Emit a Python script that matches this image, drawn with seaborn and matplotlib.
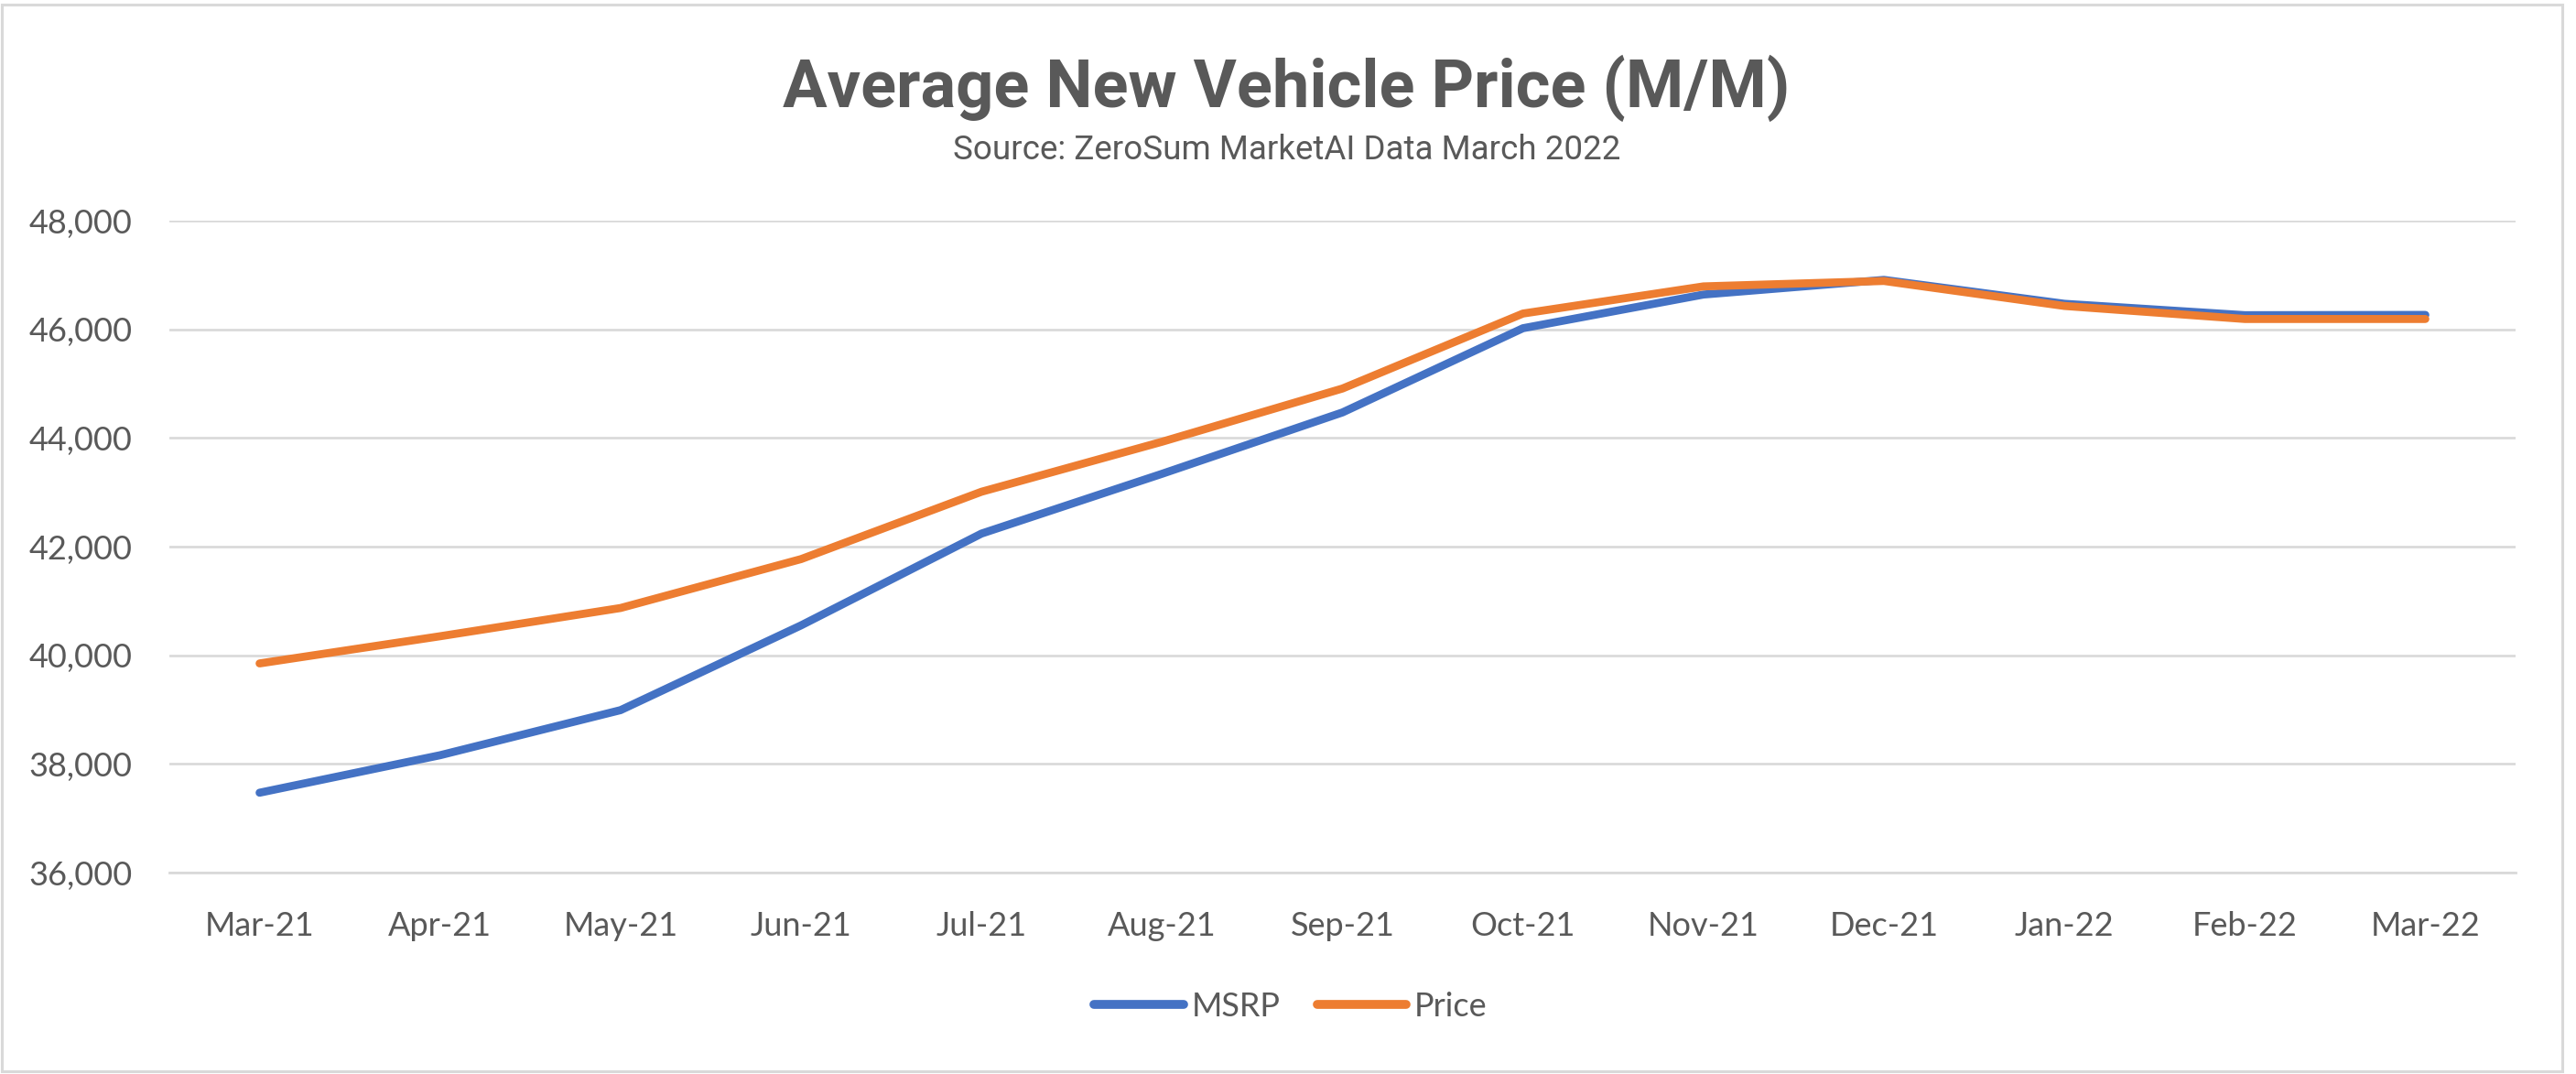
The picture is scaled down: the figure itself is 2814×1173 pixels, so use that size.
import pandas as pd
import matplotlib
matplotlib.use("Agg")
import matplotlib.pyplot as plt
from matplotlib.patches import Rectangle
from matplotlib.ticker import FuncFormatter, FixedLocator
import seaborn as sns

# -----------------------------
# DATA
# -----------------------------

MONTHS = ["Mar-21", "Apr-21", "May-21", "Jun-21", "Jul-21", "Aug-21", "Sep-21",
          "Oct-21", "Nov-21", "Dec-21", "Jan-22", "Feb-22", "Mar-22"]

MSRP = [37470, 38160, 38990, 40550, 42240, 43340, 44470,
        46020, 46640, 46910, 46470, 46260, 46265]

PRICE = [39850, 40350, 40870, 41770, 43010, 43930, 44910,
         46290, 46790, 46890, 46430, 46190, 46190]

SERIES = ["MSRP", "Price"]
COLORS = ["#4472C4", "#ED7D31"]
Y_TICKS = [36000, 38000, 40000, 42000, 44000, 46000, 48000]

TEXT = "#595959"
GRID = "#D9D9D9"

# -----------------------------
# PLOT
# -----------------------------

df = pd.DataFrame({
    "month": MONTHS * 2,
    "value": MSRP + PRICE,
    "series": ["MSRP"] * len(MONTHS) + ["Price"] * len(MONTHS),
})

sns.set_theme(style="white")
plt.rcParams["font.family"] = ["Lato", "DejaVu Sans"]

W, H = 2814, 1173
fig = plt.figure(figsize=(W / 100, H / 100), dpi=100)
ax = fig.add_axes([185 / W, 1 - 953 / H, (2748 - 185) / W, (953 - 241) / H])

sns.lineplot(
    data=df, x="month", y="value", hue="series",
    hue_order=SERIES, palette=COLORS, sort=False,
    linewidth=6.3, ax=ax, legend=True
)
for line in ax.get_lines():
    line.set_solid_capstyle("round")
    line.set_solid_joinstyle("round")

ax.set_xlim(-0.5, len(MONTHS) - 0.5)
ax.set_ylim(Y_TICKS[0], Y_TICKS[-1])
ax.set_yticks(Y_TICKS)
ax.yaxis.set_major_formatter(FuncFormatter(lambda v, p: f"{v:,.0f}"))
ax.set_xlabel("")
ax.set_ylabel("")

ax.grid(axis="y", color=GRID, linewidth=1.9)
ax.grid(axis="x", visible=False)
ax.set_axisbelow(True)
for side in ["top", "right", "left"]:
    ax.spines[side].set_visible(False)
ax.spines["bottom"].set_color(GRID)
ax.spines["bottom"].set_linewidth(2.0)

ax.xaxis.set_minor_locator(FixedLocator([i - 0.5 for i in range(len(MONTHS) + 1)]))
ax.tick_params(axis="x", which="major", length=0, pad=30, labelsize=26, labelcolor=TEXT)
ax.tick_params(axis="x", which="minor", length=8.6, width=2.0, color=GRID, direction="out")
ax.tick_params(axis="y", length=0, pad=29, labelsize=26, labelcolor=TEXT)

handles, labels = ax.get_legend_handles_labels()
ax.legend(
    handles, labels, loc="center", ncol=2, frameon=False,
    bbox_to_anchor=(1410 / W, 1 - 1099 / H), bbox_transform=fig.transFigure,
    fontsize=26, labelcolor=TEXT, handlelength=2.7, handletextpad=0.25,
    columnspacing=1.1
)
for lh in ax.get_legend().get_lines():
    lh.set_linewidth(7.0)
    lh.set_solid_capstyle("round")

fig.text(0.4995, 1 - 117 / H, "Average New Vehicle Price (M/M)",
         ha="center", va="baseline", fontsize=52, fontweight="bold",
         color=TEXT, family=["Roboto", "DejaVu Sans"])
fig.text(0.4995, 1 - 174 / H, "Source: ZeroSum MarketAI Data March 2022",
         ha="center", va="baseline", fontsize=26.5,
         color=TEXT, family=["Roboto", "DejaVu Sans"])

fig.patches.append(Rectangle((2 / W, 3 / H), 2797 / W, 1165 / H,
                             transform=fig.transFigure, fill=False,
                             edgecolor=GRID, linewidth=2.2))

fig.savefig("out.png", dpi=100, facecolor="white")
